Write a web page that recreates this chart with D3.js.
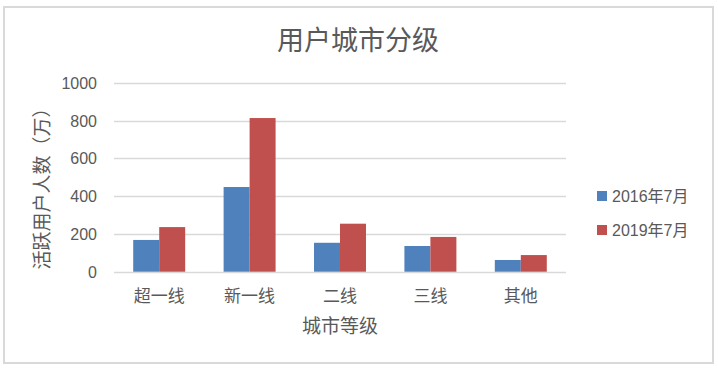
<!DOCTYPE html>
<html>
<head>
<meta charset="utf-8">
<script src="https://cdn.jsdelivr.net/npm/d3@7"></script>
<style>
  html, body { margin: 0; padding: 0; background: #fff; }
  svg { display: block; }
  text { font-family: 'Liberation Sans', Arial, 'Noto Sans CJK SC', sans-serif; fill: #595959; }
</style>
</head>
<body>
<svg id="chart" width="718" height="369"></svg>
<script>
// data
const categories = ['超一线', '新一线', '二线', '三线', '其他'];
const seriesNames = ['2016年7月', '2019年7月'];
const values2016 = [168, 448, 153, 136, 62];
const values2019 = [236, 813, 254, 184, 88];
const yTicks = [0, 200, 400, 600, 800, 1000];
const colors = ['#4f81bd', '#c0504d'];

const rows = categories.map((c, i) => ({ cat: c, vals: [values2016[i], values2019[i]] }));

const svg = d3.select('#chart');

// outer frame
svg.append('rect')
  .attr('x', 4).attr('y', 7)
  .attr('width', 709).attr('height', 356)
  .attr('fill', '#fff')
  .attr('stroke', '#d9d9d9')
  .attr('stroke-width', 2);

const plot = { left: 114, right: 566, top: 82.7, bottom: 271.7 };

const x0 = d3.scaleBand()
  .domain(categories)
  .range([plot.left, plot.right])
  .paddingInner(0.425)
  .paddingOuter(0.2125);

const x1 = d3.scaleBand()
  .domain(d3.range(seriesNames.length))
  .range([0, x0.bandwidth()]);

const y = d3.scaleLinear().domain([0, 1000]).range([plot.bottom, plot.top]);

// gridlines
svg.append('g')
  .selectAll('line')
  .data(yTicks)
  .enter()
  .append('line')
  .attr('x1', plot.left)
  .attr('x2', plot.right)
  .attr('y1', (d) => Math.round(y(d)) + 0.5)
  .attr('y2', (d) => Math.round(y(d)) + 0.5)
  .attr('stroke', '#d9d9d9')
  .attr('stroke-width', 1.5);

// y axis labels
const yAxis = svg.append('g')
  .attr('transform', `translate(${plot.left - 17},0)`)
  .call(d3.axisLeft(y).tickValues(yTicks).tickFormat(d3.format('d')).tickSize(0).tickPadding(0));
yAxis.select('.domain').remove();
yAxis.selectAll('text')
  .attr('font-size', 16)
  .attr('dy', '0.35em')
  .attr('font-family', "'Liberation Sans', Arial, sans-serif")
  .attr('fill', '#595959');

// bars
svg.append('g')
  .selectAll('g')
  .data(rows)
  .enter()
  .append('g')
  .attr('transform', (d) => `translate(${x0(d.cat)},0)`)
  .selectAll('rect')
  .data((d) => d.vals.map((v, k) => ({ v, k })))
  .enter()
  .append('rect')
  .attr('x', (d) => x1(d.k))
  .attr('width', x1.bandwidth())
  .attr('y', (d) => y(d.v))
  .attr('height', (d) => y(0) - y(d.v))
  .attr('fill', (d) => colors[d.k]);

// x axis labels
const xAxis = svg.append('g')
  .attr('transform', `translate(0,${plot.bottom})`)
  .call(d3.axisBottom(x0).tickSize(0).tickPadding(0));
xAxis.select('.domain').remove();
xAxis.selectAll('text')
  .attr('y', 24)
  .attr('dy', '0.35em')
  .attr('font-size', 17)
  .attr('font-family', "'Noto Sans CJK SC', sans-serif")
  .attr('fill', '#595959');

// title
svg.append('text')
  .attr('x', 358).attr('y', 41)
  .attr('dy', '0.35em')
  .attr('text-anchor', 'middle')
  .attr('font-size', 27)
  .style('font-family', "'Noto Sans CJK SC', sans-serif")
  .text('用户城市分级');

// axis titles
svg.append('text')
  .attr('x', (plot.left + plot.right) / 2).attr('y', 326)
  .attr('dy', '0.35em')
  .attr('text-anchor', 'middle')
  .attr('font-size', 19)
  .style('font-family', "'Noto Sans CJK SC', sans-serif")
  .text('城市等级');

svg.append('text')
  .attr('transform', 'translate(42,184) rotate(-90)')
  .attr('dy', '0.35em')
  .attr('text-anchor', 'middle')
  .attr('font-size', 19)
  .style('font-family', "'Noto Sans CJK SC', sans-serif")
  .text('活跃用户人数（万）');

// legend
const legend = svg.append('g')
  .selectAll('g')
  .data(seriesNames)
  .enter()
  .append('g')
  .attr('transform', (d, i) => `translate(597,${196 + i * 34})`);
legend.append('rect')
  .attr('x', 0).attr('y', -5)
  .attr('width', 10).attr('height', 10)
  .attr('fill', (d, i) => colors[i]);
legend.append('text')
  .attr('x', 15)
  .attr('dy', '0.35em')
  .attr('font-size', 16)
  .text((d) => d);
</script>
</body>
</html>
